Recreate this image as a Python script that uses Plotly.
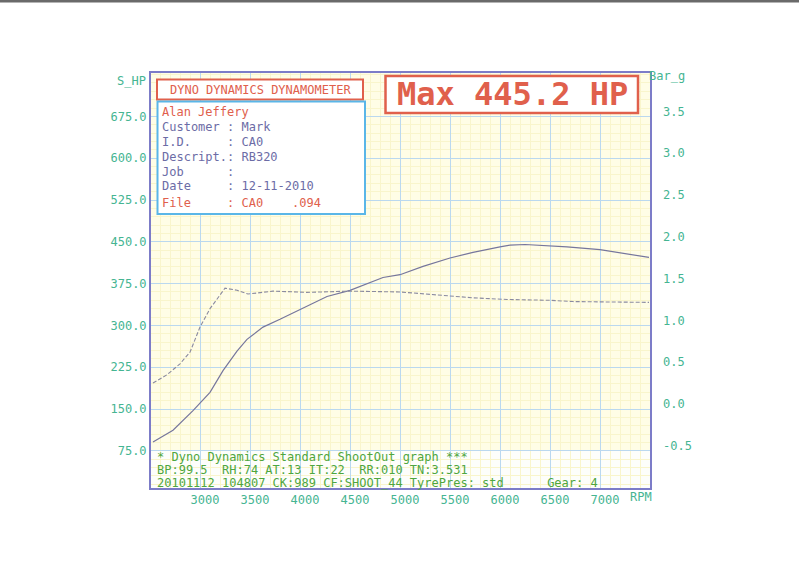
import plotly.graph_objects as go

# ---------------- data ----------------
power_rpm = [2530, 2730, 2930, 3100, 3230, 3370, 3470, 3630, 3800, 4000, 4270, 4500,
             4830, 5000, 5230, 5500, 5730, 6000, 6100, 6250, 6400, 6670, 7000, 7230, 7490]
power_hp = [91, 112, 147, 180, 219, 254, 275, 297, 311, 328, 352, 363,
            386, 391, 406, 421, 431, 441, 444, 445.2, 444, 441, 436, 430, 422]

boost_rpm = [2530, 2670, 2800, 2900, 3000, 3100, 3250, 3370, 3480, 3730, 4070, 4500,
             5000, 5230, 5500, 5730, 6070, 6500, 6730, 7070, 7490]
boost_bar = [0.31, 0.41, 0.54, 0.68, 0.98, 1.20, 1.445, 1.42, 1.375, 1.41, 1.395, 1.41,
             1.40, 1.38, 1.357, 1.33, 1.31, 1.30, 1.285, 1.28, 1.275]

x_ticks = [3000, 3500, 4000, 4500, 5000, 5500, 6000, 6500, 7000]
x_tick_text = ["3000", "3500", "4000", "4500", "5000", "5500", "6000", "6500", "7000"]
hp_ticks = [75, 150, 225, 300, 375, 450, 525, 600, 675]
hp_tick_text = ["75.0", "150.0", "225.0", "300.0", "375.0", "450.0", "525.0", "600.0", "675.0"]
bar_ticks = [-0.5, 0.0, 0.5, 1.0, 1.5, 2.0, 2.5, 3.0, 3.5]
bar_tick_text = ["-0.5", "0.0", "0.5", "1.0", "1.5", "2.0", "2.5", "3.0", "3.5"]

title_text = "DYNO DYNAMICS DYNAMOMETER"
max_text = "Max 445.2 HP"
info_lines = ["Alan Jeffery", "Customer : Mark", "I.D.     : CA0", "Descript.: RB320",
              "Job      :", "Date     : 12-11-2010", "File     : CA0    .094"]
footer_lines = ["* Dyno Dynamics Standard ShootOut graph ***",
                "BP:99.5  RH:74 AT:13 IT:22  RR:010 TN:3.531",
                "20101112 104807 CK:989 CF:SHOOT_44 TyrePres: std      Gear: 4"]

# ---------------- styling ----------------
W, H = 799, 581
L, R, T, B = 151, 650, 73, 488
MONO = "DejaVu Sans Mono"
TEAL = "#45b592"
RED = "#e0604c"
PURPLE = "#6c6ca6"
GREEN = "#4fa63e"
FRAME = "#7c7cc8"
CYAN = "#5ab6e8"
X_RANGE = [2510, 7500]
Y_RANGE = [8.3, 752.9]
Y2_RANGE = [-0.945, 4.019]


def px(x):
    return (x - L) / (R - L)


def py(y):
    return (B - y) / (B - T)


def nb(s):
    return s.replace(" ", "\u00a0")


fig = go.Figure()
fig.add_trace(go.Scatter(x=power_rpm, y=power_hp, mode="lines",
                         line=dict(color="#76769c", width=1.2), yaxis="y",
                         showlegend=False, hoverinfo="skip"))
fig.add_trace(go.Scatter(x=boost_rpm, y=boost_bar, mode="lines",
                         line=dict(color="#8a8aa0", width=1.1, dash="4px,2px"), yaxis="y2",
                         showlegend=False, hoverinfo="skip"))

shapes = []
# white footer area inside frame
shapes.append(dict(type="rect", xref="paper", yref="y", x0=0, x1=1, y0=Y_RANGE[0], y1=75,
                   fillcolor="#fdfefb", line=dict(width=0), layer="between"))
# title box
shapes.append(dict(type="rect", xref="paper", yref="paper", x0=px(157), x1=px(363),
                   y0=py(99.5), y1=py(79.5), fillcolor="white",
                   line=dict(color=RED, width=2), layer="above"))
# info box
shapes.append(dict(type="rect", xref="paper", yref="paper", x0=px(157.5), x1=px(365),
                   y0=py(214), y1=py(101.5), fillcolor="white",
                   line=dict(color=CYAN, width=2), layer="above"))
# max box
shapes.append(dict(type="rect", xref="paper", yref="paper", x0=px(385.5), x1=px(638),
                   y0=py(113), y1=py(76), fillcolor="white",
                   line=dict(color=RED, width=2.5), layer="above"))
# scan edge at top of page
shapes.append(dict(type="rect", xref="paper", yref="paper", x0=px(0), x1=px(W),
                   y0=py(2.5), y1=py(0), fillcolor="#6a6a6a", line=dict(width=0), layer="above"))

annotations = []


def add_text(text, x, y, color, size=12, xanchor="left", bold=False):
    t = nb(text)
    if bold:
        t = "<b>" + t + "</b>"
    annotations.append(dict(text=t, xref="paper", yref="paper", x=px(x), y=py(y),
                            xanchor=xanchor, yanchor="middle", showarrow=False, borderpad=0,
                            font=dict(family=MONO, size=size, color=color)))


add_text("S_HP", 147, 81, TEAL, xanchor="right")
add_text("Bar_g", 648, 76, TEAL)
add_text("RPM", 629, 497, TEAL)
add_text(title_text, 260, 89.5, RED, xanchor="center")
add_text(max_text, 512, 94, RED, size=32, xanchor="center", bold=True)

info_y = [111.5, 127.5, 141.5, 156.5, 171.5, 186, 203]
for i, (line, yy) in enumerate(zip(info_lines, info_y)):
    col = RED if i in (0, len(info_lines) - 1) else PURPLE
    add_text(line, 161, yy, col)

for line, yy in zip(footer_lines, [456.5, 470, 483]):
    add_text(line, 156, yy, GREEN, size=12)

fig.update_layout(
    width=W, height=H,
    margin=dict(l=L, r=W - R, t=T, b=H - B, pad=0),
    paper_bgcolor="white",
    plot_bgcolor="#fffde6",
    showlegend=False,
    shapes=shapes,
    annotations=annotations,
    xaxis=dict(range=X_RANGE, tickvals=x_ticks, ticktext=x_tick_text,
               showgrid=True, gridcolor="#bad8ef", gridwidth=1,
               minor=dict(dtick=100, tick0=3000, showgrid=True, gridcolor="#f9f5cc", gridwidth=1),
               zeroline=False, showline=True, mirror=True, linecolor=FRAME, linewidth=2,
               ticks="", ticklabelshift=5,
               tickfont=dict(family=MONO, size=12, color=TEAL)),
    yaxis=dict(range=Y_RANGE, tickvals=hp_ticks, ticktext=hp_tick_text,
               showgrid=True, gridcolor="#bad8ef", gridwidth=1,
               minor=dict(dtick=15, tick0=75, showgrid=True, gridcolor="#f9f5cc", gridwidth=1),
               zeroline=False, showline=True, mirror=True, linecolor=FRAME, linewidth=2,
               ticks="", tickfont=dict(family=MONO, size=12, color=TEAL)),
    yaxis2=dict(range=Y2_RANGE, tickvals=bar_ticks, ticktext=bar_tick_text,
                overlaying="y", side="right", showgrid=False, zeroline=False,
                showline=False, ticks="", ticklabelstandoff=12, ticklabelshift=-5,
                tickfont=dict(family=MONO, size=12, color=TEAL)),
)

fig.write_html("out.html", config={"displayModeBar": False},
               post_script="document.body.style.margin='0';document.body.style.overflow='hidden';")
